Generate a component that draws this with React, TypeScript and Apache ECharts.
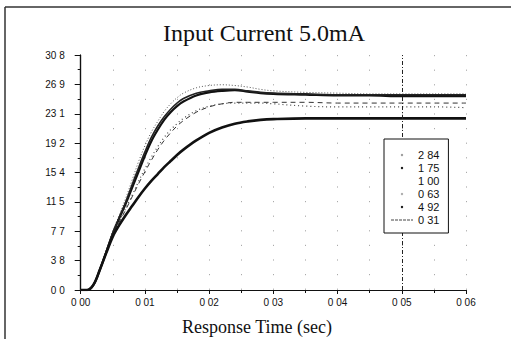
import React, { useEffect, useRef } from "react";
import * as echarts from "echarts";

const titleText = "Input Current 5.0mA";
const xAxisTitle = "Response Time (sec)";
const xTickLabels = ["0 00", "0 01", "0 02", "0 03", "0 04", "0 05", "0 06"];
const yTickLabels = ["0 0", "3 8", "7 7", "11 5", "15 4", "19 2", "23 1", "26 9", "30 8"];
const seriesNames = ["2 84", "1 75", "1 00", "0 63", "4 92", "0 31"];
const markerTime = 0.05;

const times = [0, 0.001, 0.002, 0.003, 0.004, 0.005, 0.006, 0.007, 0.008, 0.009, 0.01, 0.011, 0.012, 0.013, 0.014, 0.015, 0.016, 0.018, 0.02, 0.022, 0.024, 0.026, 0.028, 0.03, 0.035, 0.04, 0.045, 0.05, 0.055, 0.06];
const v284 = [0, 0, 0.7, 2.8, 5.2, 7.7, 9.8, 12.0, 14.4, 16.8, 18.9, 20.7, 22.1, 23.4, 24.4, 25.2, 25.8, 26.5, 26.8, 26.9, 26.8, 26.6, 26.3, 26.1, 25.9, 25.8, 25.7, 25.7, 25.7, 25.7];
const v175 = [0, 0, 0.7, 2.7, 5.0, 7.4, 9.4, 11.3, 13.4, 15.5, 17.6, 19.5, 21.0, 22.3, 23.3, 24.1, 24.7, 25.5, 25.9, 26.1, 26.2, 26.0, 25.8, 25.7, 25.6, 25.5, 25.5, 25.4, 25.4, 25.4];
const v100 = [0, 0, 0.7, 2.7, 4.9, 7.2, 8.9, 10.5, 12.2, 13.9, 15.5, 17.0, 18.4, 19.6, 20.6, 21.5, 22.2, 23.3, 24.0, 24.4, 24.6, 24.6, 24.6, 24.6, 24.6, 24.5, 24.5, 24.5, 24.5, 24.5];
const v063 = [0, 0, 0.7, 2.7, 4.9, 7.2, 9.0, 10.7, 12.4, 14.2, 15.9, 17.4, 18.8, 20.0, 21.0, 21.8, 22.5, 23.5, 24.1, 24.4, 24.5, 24.5, 24.5, 24.4, 24.1, 24.0, 24.0, 24.0, 24.0, 23.9];
const v492 = [0, 0, 0.7, 2.7, 5.1, 7.5, 9.5, 11.5, 13.8, 16.0, 18.1, 20.0, 21.5, 22.7, 23.7, 24.5, 25.1, 25.8, 26.1, 26.3, 26.3, 26.1, 25.9, 25.8, 25.7, 25.6, 25.6, 25.6, 25.6, 25.6];
const v031 = [0, 0, 0.7, 2.7, 4.9, 7.0, 8.5, 9.8, 11.0, 12.2, 13.3, 14.3, 15.2, 16.1, 16.9, 17.7, 18.4, 19.6, 20.6, 21.3, 21.8, 22.1, 22.3, 22.4, 22.5, 22.5, 22.5, 22.5, 22.5, 22.5];

const seriesValues = [v284, v175, v100, v063, v492, v031];

const lineStyles: any[] = [
  { color: "#555", width: 1, type: [1, 2] },
  { color: "#111", width: 2.2, type: "solid" },
  { color: "#333", width: 1, type: [5, 4] },
  { color: "#444", width: 1.2, type: [1, 3] },
  { color: "#222", width: 1.6, type: "solid" },
  { color: "#111", width: 2.6, type: "solid" },
];

const legendDotColors = ["#999", "#111", "#111", "#aaa", "#111", "#444"];
const legendShowDot = [true, true, false, true, true, false];

const FONT_SANS = "'Liberation Sans', Arial, sans-serif";
const FONT_SERIF = "'Liberation Serif', 'Times New Roman', serif";

export default function App() {
  const ref = useRef<HTMLDivElement>(null);

  useEffect(() => {
    if (!ref.current) return;
    const chart = echarts.init(ref.current, undefined, { renderer: "svg" });

    const series: any[] = seriesNames.map((name, i) => ({
      name,
      type: "line",
      xAxisIndex: 0,
      yAxisIndex: 0,
      data: times.map((t, j) => [t, seriesValues[i][j]]),
      symbol: "circle",
      symbolSize: 3,
      showSymbol: false,
      smooth: 0.35,
      lineStyle: lineStyles[i],
      itemStyle: { color: legendDotColors[i] },
      z: 3,
    }));
    series[0].markLine = {
      silent: true,
      symbol: "none",
      label: { show: false },
      lineStyle: { color: "#222", width: 1, type: [4, 2, 1, 2] },
      data: [{ xAxis: markerTime }],
    };

    const option: any = {
      animation: false,
      backgroundColor: "#fff",
      graphic: [
        { type: "line", shape: { x1: 5, y1: 7, x2: 511, y2: 7 }, style: { stroke: "#333", lineWidth: 1.5 } },
        { type: "line", shape: { x1: 5, y1: 7, x2: 5, y2: 339 }, style: { stroke: "#333", lineWidth: 1.5 } },
        {
          type: "text",
          x: 264,
          y: 33,
          style: { text: titleText, font: `24px ${FONT_SERIF}`, fill: "#111", textAlign: "center", textVerticalAlign: "middle" },
        },
        {
          type: "text",
          x: 257,
          y: 327,
          style: { text: xAxisTitle, font: `18px ${FONT_SERIF}`, fill: "#111", textAlign: "center", textVerticalAlign: "middle" },
        },
      ],
      grid: { left: 80.7, right: 45, top: 55, bottom: 49, containLabel: false },
      legend: {
        orient: "vertical",
        left: 384,
        top: 139,
        z: 20,
        padding: [10, 9, 7, 6],
        itemWidth: 22,
        itemHeight: 3,
        itemGap: 1,
        borderColor: "#111",
        borderWidth: 1,
        backgroundColor: "#fff",
        textStyle: { fontFamily: FONT_SANS, fontSize: 11, color: "#111", lineHeight: 12 },
        data: seriesNames.map((name, i) =>
          i === 5
            ? { name, itemStyle: { opacity: 0 }, lineStyle: { width: 1, type: [3, 1], color: "#444" } }
            : { name, itemStyle: { opacity: legendShowDot[i] ? 1 : 0 }, lineStyle: { opacity: 0 } }
        ),
        selectedMode: false,
      },
      xAxis: [
        {
          type: "value",
          min: 0,
          max: 0.06,
          interval: 0.01,
          axisLine: { show: true, onZero: false, lineStyle: { color: "#111", width: 1.2 } },
          axisTick: { show: true, inside: false, length: 4, lineStyle: { color: "#111" } },
          minorTick: { show: true, splitNumber: 2, length: 3, lineStyle: { color: "#111" } },
          axisLabel: {
            fontFamily: FONT_SANS,
            fontSize: 10,
            color: "#111",
            margin: 7,
            formatter: (v: number) => xTickLabels[Math.round(v / 0.01)] ?? "",
          },
          splitLine: { show: true, lineStyle: { color: "#aaa", width: 1, type: [1.2, 13.4] } },
          minorSplitLine: { show: true, lineStyle: { color: "#aaa", width: 1, type: [1.2, 13.4] } },
        },
        {
          type: "value",
          position: "top",
          min: 0,
          max: 0.06,
          interval: 0.01,
          axisLine: { show: true, lineStyle: { color: "#111", width: 1.2 } },
          axisTick: { show: true, inside: true, length: 4, lineStyle: { color: "#111" } },
          axisLabel: { show: false },
          splitLine: { show: false },
        },
      ],
      yAxis: [
        {
          type: "value",
          min: 0,
          max: 30.8,
          interval: 3.85,
          axisLine: { show: true, onZero: false, lineStyle: { color: "#111", width: 1.2 } },
          axisTick: { show: true, inside: false, length: 6, lineStyle: { color: "#111" } },
          minorTick: { show: true, splitNumber: 2, length: 3, lineStyle: { color: "#111" } },
          axisLabel: {
            fontFamily: FONT_SANS,
            fontSize: 10,
            color: "#111",
            margin: 16,
            formatter: (v: number) => yTickLabels[Math.round(v / 3.85)] ?? "",
          },
          splitLine: { show: false },
        },
        {
          type: "value",
          position: "right",
          min: 0,
          max: 30.8,
          interval: 3.85,
          axisLine: { show: true, lineStyle: { color: "#111", width: 1.2 } },
          axisTick: { show: false },
          axisLabel: { show: false },
          splitLine: { show: false },
        },
      ],
      series,
    };

    chart.setOption(option);
    return () => chart.dispose();
  }, []);

  return <div ref={ref} style={{ position: "fixed", left: 0, top: 0, width: 511, height: 339 }} />;
}
